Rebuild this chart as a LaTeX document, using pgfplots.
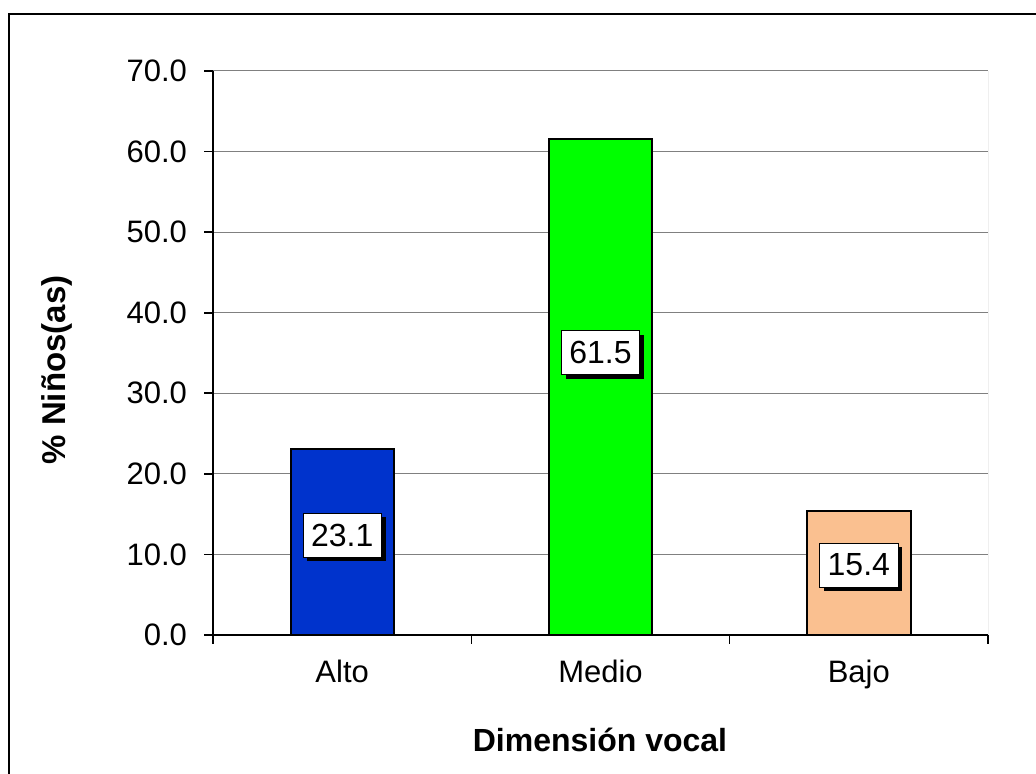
\documentclass[border=0pt]{standalone}
\usepackage{fontspec}
\setmainfont{Liberation Sans}
\usepackage{pgfplots}
\pgfplotsset{compat=1.18}
\usetikzlibrary{shadows}

\definecolor{alto}{RGB}{0,51,204}
\definecolor{medio}{RGB}{0,255,0}
\definecolor{bajo}{RGB}{250,192,144}
\definecolor{gridgray}{RGB}{128,128,128}

\begin{document}
\begin{tikzpicture}[font=\fontsize{15.5}{18}\selectfont,
  lbl/.style={fill=white, draw=black, line width=0.4pt, inner xsep=4pt,
    minimum height=22pt, font=\fontsize{16}{18}\selectfont,
    drop shadow={shadow xshift=2.2pt, shadow yshift=-2.2pt, fill=black, opacity=1}}]
\useasboundingbox (0,0) rectangle (518pt,387pt);
\draw[line width=1pt] (4.5pt,-5pt) |- (530pt,380pt);

\begin{axis}[
    at={(106.5pt,69.5pt)}, anchor=south west,
    scale only axis, width=387.5pt, height=282pt,
    xmin=0, xmax=3, ymin=0, ymax=70,
    ybar, bar width=0.4, bar shift=0pt,
    axis x line*=bottom, axis y line*=left,
    axis line style={line width=1pt, black},
    tick align=outside, major tick length=4.5pt,
    tick style={black, line width=0.8pt},
    ytick={0,10,...,70},
    yticklabel style={/pgf/number format/fixed,
        /pgf/number format/fixed zerofill,
        /pgf/number format/precision=1,
        /pgf/number format/assume math mode=true, xshift=-5pt},
    xtick={0,1,2,3}, xticklabels={},
    extra x ticks={0.5,1.5,2.5},
    extra x tick labels={Alto,Medio,Bajo},
    extra x tick style={major tick length=0pt, xticklabel style={yshift=-9pt}},
    ymajorgrids,
    major grid style={gridgray, line width=0.5pt},
]
\addplot[fill=alto, draw=black, line width=1pt] coordinates {(0.5,23.1)};
\addplot[fill=medio, draw=black, line width=1pt] coordinates {(1.5,61.5)};
\addplot[fill=bajo, draw=black, line width=1pt] coordinates {(2.5,15.4)};

\draw[gridgray, line width=0.5pt] (rel axis cs:1,0) -- (rel axis cs:1,1);

\node[lbl] at (axis cs:0.5,12.4) {23.1};
\node[lbl] at (axis cs:1.5,35.1) {61.5};
\node[lbl] at (axis cs:2.5,8.7) {15.4};
\end{axis}

\node[font=\fontsize{16}{18}\selectfont\bfseries] at (300pt,17pt) {Dimensión vocal};
\node[rotate=90, font=\fontsize{16.5}{18}\selectfont\bfseries] at (28.5pt,202pt) {\% Niños(as)};
\end{tikzpicture}
\end{document}
